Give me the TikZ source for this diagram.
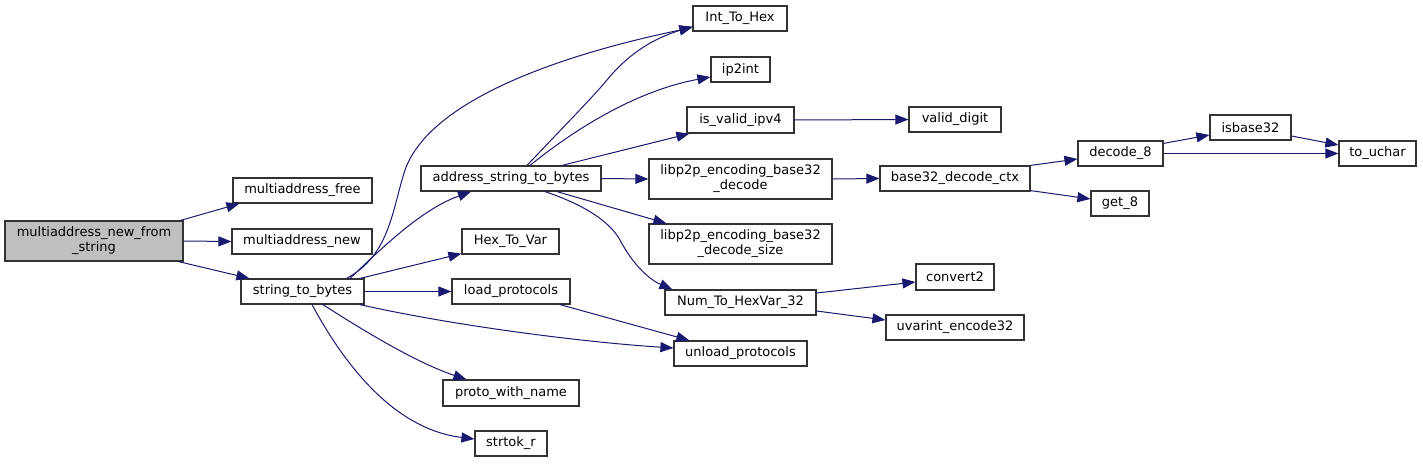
\documentclass[tikz,border=0pt]{standalone}
\usepackage{fontspec}
\setmainfont{DejaVu Sans}
\usetikzlibrary{arrows.meta}
\definecolor{edgeblue}{HTML}{191970}
\definecolor{boxline}{HTML}{333333}
\definecolor{maingray}{HTML}{BFBFBF}
\tikzset{
  fn/.style={draw=boxline, line width=1.2pt, fill=white, inner sep=0pt, align=center,
    font=\fontsize{13pt}{15pt}\selectfont},
  call/.style={draw=edgeblue, line width=1pt, -{Triangle[length=13pt,width=10pt]}, edgeblue}
}
\begin{document}
\begin{tikzpicture}[x=1pt,y=-1pt]
\useasboundingbox (0,0) rectangle (1423,463);
% nodes
\node[fn, fill=maingray, minimum width=178pt, minimum height=40pt] (mnfs) at (94,241) {multiaddress\_new\_from\\\_string};
\node[fn, minimum width=139pt, minimum height=25pt] (mfree) at (302.5,190.5) {multiaddress\_free};
\node[fn, minimum width=140pt, minimum height=25pt] (mnew) at (302,241.5) {multiaddress\_new};
\node[fn, minimum width=123pt, minimum height=25pt] (stb) at (302.5,291.5) {string\_to\_bytes};
\node[fn, minimum width=180pt, minimum height=25pt] (astb) at (511,178.5) {address\_string\_to\_bytes};
\node[fn, minimum width=97pt, minimum height=25pt] (hex2var) at (510.5,241.5) {Hex\_To\_Var};
\node[fn, minimum width=118pt, minimum height=25pt] (loadp) at (511,291.5) {load\_protocols};
\node[fn, minimum width=133pt, minimum height=25pt] (unloadp) at (740.5,353.5) {unload\_protocols};
\node[fn, minimum width=136pt, minimum height=26pt] (pwn) at (511,393) {proto\_with\_name};
\node[fn, minimum width=72pt, minimum height=25pt] (strtok) at (511,443.5) {strtok\_r};
\node[fn, minimum width=94pt, minimum height=25pt] (int2hex) at (740,18.5) {Int\_To\_Hex};
\node[fn, minimum width=59pt, minimum height=25pt] (ip2int) at (740.5,69.5) {ip2int};
\node[fn, minimum width=107pt, minimum height=26pt] (isv4) at (740.5,120) {is\_valid\_ipv4};
\node[fn, minimum width=183pt, minimum height=40pt] (b32dec) at (740.5,179) {libp2p\_encoding\_base32\\\_decode};
\node[fn, minimum width=183pt, minimum height=40pt] (b32size) at (740.5,244) {libp2p\_encoding\_base32\\\_decode\_size};
\node[fn, minimum width=151pt, minimum height=25pt] (n2hv) at (740.5,302.5) {Num\_To\_HexVar\_32};
\node[fn, minimum width=92pt, minimum height=25pt] (vdigit) at (955,119.5) {valid\_digit};
\node[fn, minimum width=150pt, minimum height=25pt] (ctx) at (955,178.5) {base32\_decode\_ctx};
\node[fn, minimum width=85pt, minimum height=25pt] (dec8) at (1120.5,153.5) {decode\_8};
\node[fn, minimum width=58pt, minimum height=25pt] (get8) at (1120,203.5) {get\_8};
\node[fn, minimum width=81pt, minimum height=25pt] (isb32) at (1250.5,127.5) {isbase32};
\node[fn, minimum width=77pt, minimum height=25pt] (uchar) at (1377.5,153.5) {to\_uchar};
\node[fn, minimum width=78pt, minimum height=26pt] (conv2) at (955,277) {convert2};
\node[fn, minimum width=138pt, minimum height=25pt] (uvar) at (955,327.5) {uvarint\_encode32};
% edges
\draw[call] ([xshift=-3pt]mnfs.north east) -- ([xshift=7pt]mfree.south west);
\draw[call] (mnfs.east) -- (mnew.west);
\draw[call] ([xshift=-5pt]mnfs.south east) -- ([xshift=9pt]stb.north west);
\draw[call] ([xshift=47.5pt]stb.north) .. controls (380,250) and (420,210) .. ([xshift=-40pt]astb.south);
\draw[call] ([xshift=44pt]stb.north) .. controls (390,255) and (392,210) .. (405,170) .. controls (430,100) and (560,55) .. ([yshift=-9pt]int2hex.west);
\draw[call] ([xshift=16pt]astb.north) .. controls (570,120) and (590,100) .. (607,80) .. controls (630,52) and (655,38) .. ([yshift=-8pt]int2hex.west);
\draw[call] ([xshift=19pt]astb.north) .. controls (580,125) and (640,90) .. ([yshift=-7.5pt]ip2int.west);
\draw[call] ([xshift=51pt]astb.north) -- ([xshift=3pt]isv4.south west);
\draw[call] (astb.east) -- (b32dec.west);
\draw[call] ([xshift=46pt]astb.south) -- ([xshift=18pt]b32size.north west);
\draw[call] ([xshift=34pt]astb.south) .. controls (585,205) and (610,222) .. (620,240) .. controls (633,265) and (650,280) .. ([xshift=8pt]n2hv.north west);
\draw[call] ([xshift=57.5pt]stb.north) -- ([yshift=1pt]hex2var.south west);
\draw[call] (stb.east) -- (loadp.west);
\draw[call] ([xshift=57.5pt]stb.south) .. controls (450,325) and (580,342) .. ([yshift=5.5pt]unloadp.west);
\draw[call] ([xshift=49pt]loadp.south) -- ([xshift=16pt]unloadp.north west);
\draw[call] ([xshift=20.5pt]stb.south) .. controls (370,335) and (420,364) .. ([xshift=24pt]pwn.north west);
\draw[call] ([xshift=9.5pt]stb.south) .. controls (350,375) and (400,430) .. ([yshift=4.5pt]strtok.west);
\draw[call] (isv4.east) -- (vdigit.west);
\draw[call] (b32dec.east) -- (ctx.west);
\draw[call] (ctx.north east) -- ([yshift=-5.5pt]dec8.west);
\draw[call] ([yshift=1pt]ctx.south east) -- ([yshift=4.5pt]get8.west);
\draw[call] ([yshift=-3pt]dec8.north east) -- ([yshift=-7.5pt]isb32.west);
\draw[call] (dec8.east) -- (uchar.west);
\draw[call] ([yshift=-8.5pt]isb32.east) -- ([yshift=8.5pt]uchar.west);
\draw[call] ([yshift=9.5pt]n2hv.east) -- ([yshift=-5pt]conv2.west);
\draw[call] ([yshift=-8.5pt]n2hv.east) -- ([yshift=7.5pt]uvar.west);
\end{tikzpicture}
\end{document}
